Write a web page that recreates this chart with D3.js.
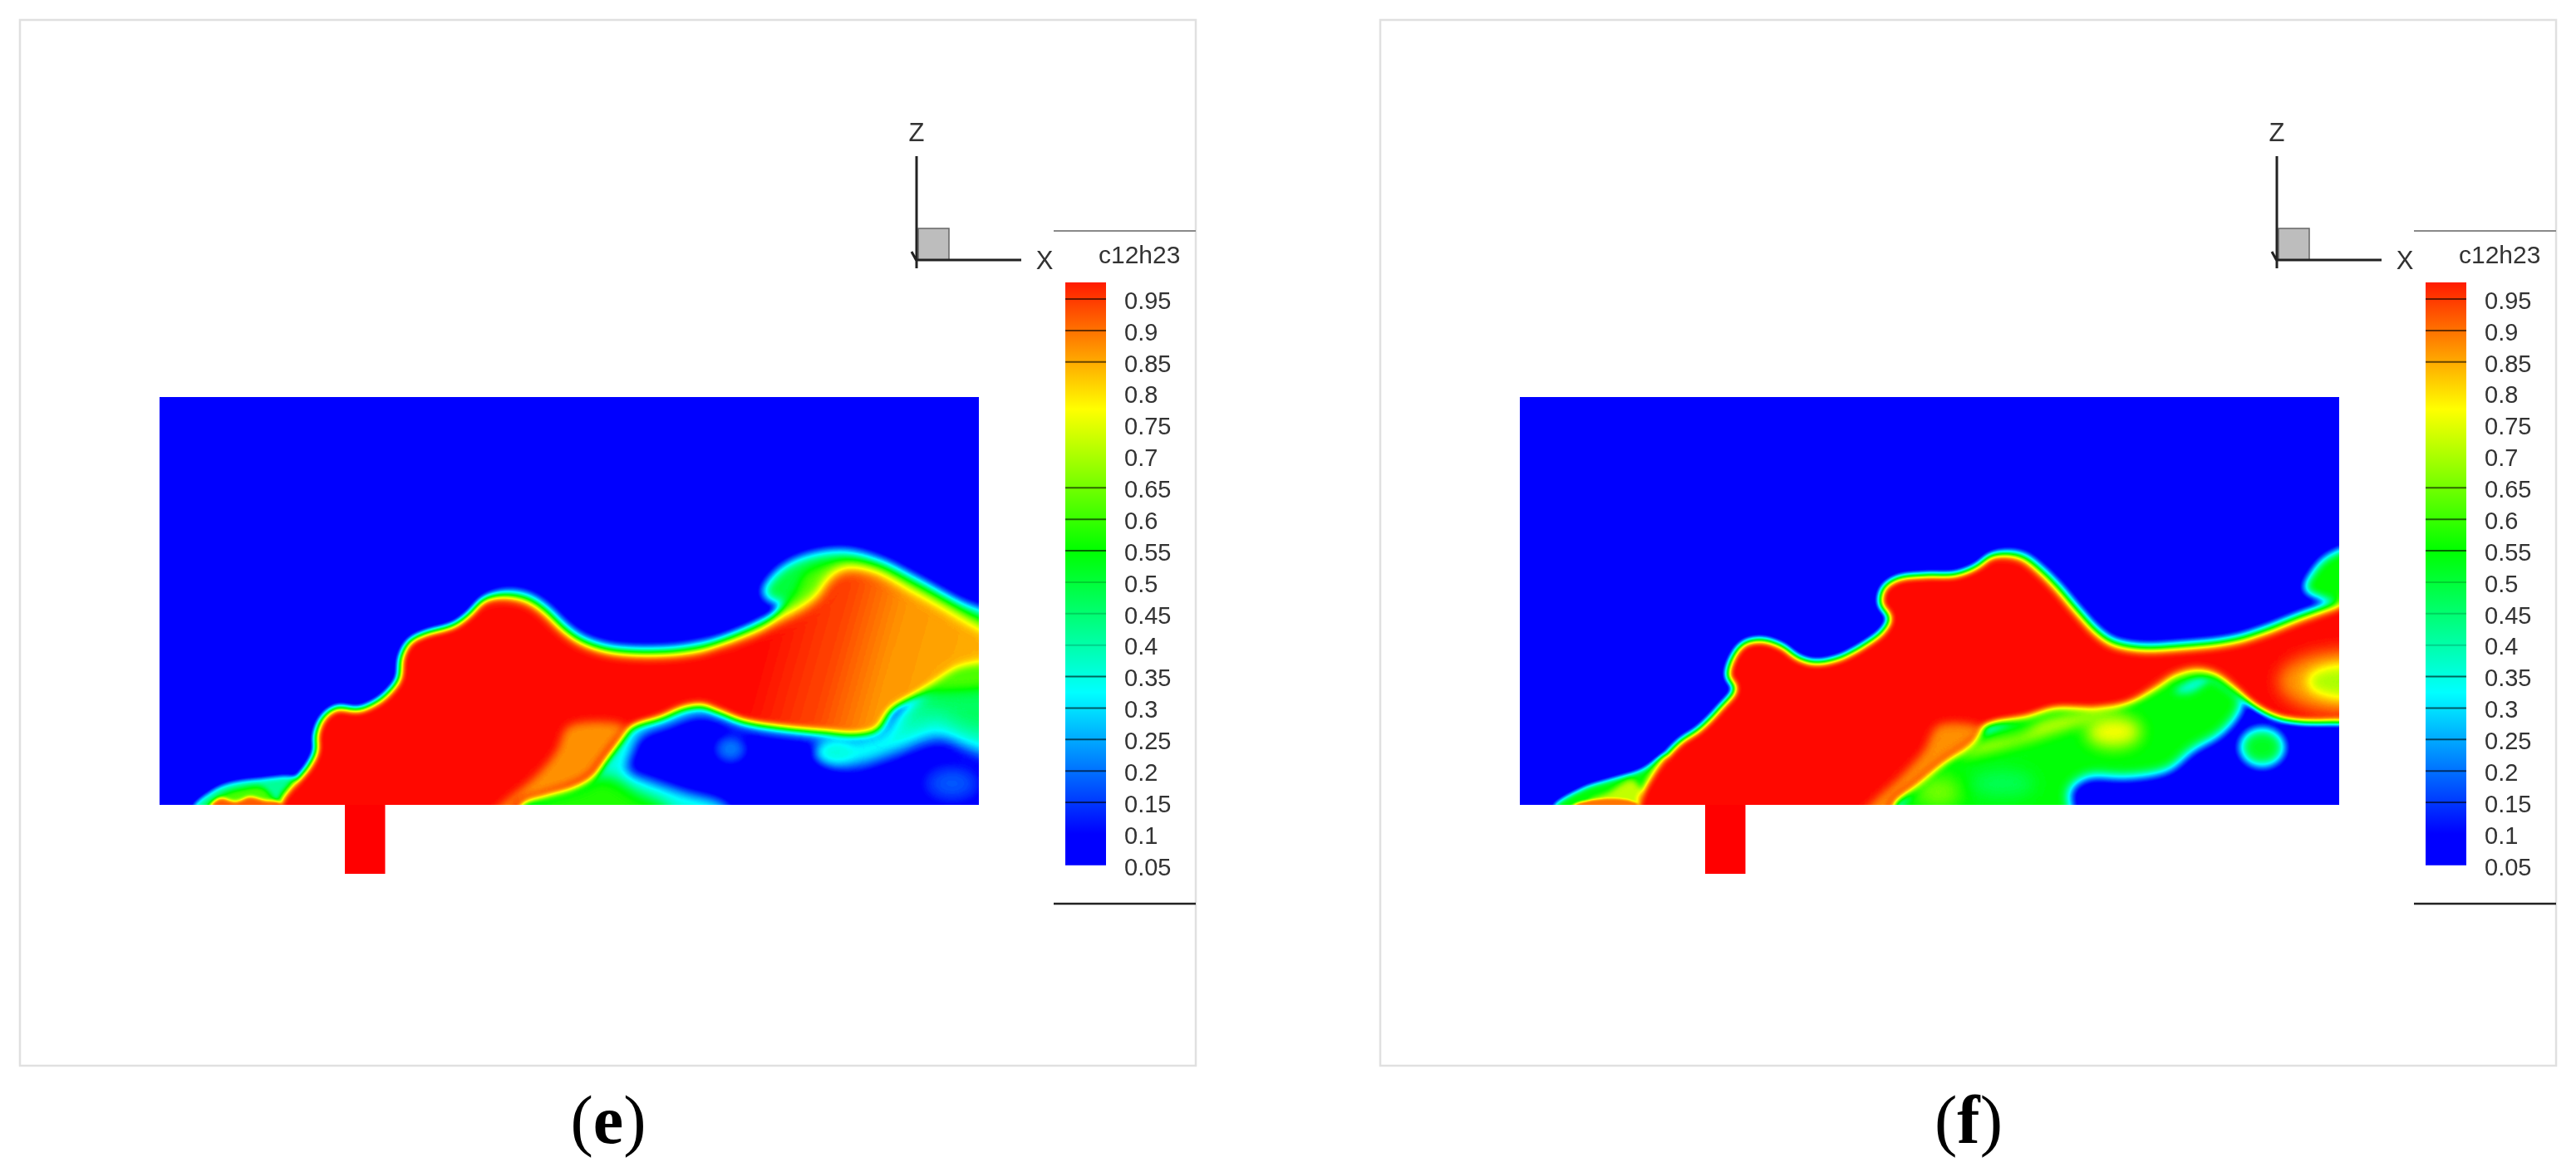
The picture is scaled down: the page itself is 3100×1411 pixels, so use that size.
<!DOCTYPE html>
<html><head><meta charset="utf-8">
<style>html,body{margin:0;padding:0;background:#fff}svg{display:block;filter:blur(0.7px)}</style>
<script src="https://cdn.jsdelivr.net/npm/d3@7/dist/d3.min.js"></script>
</head><body>
<svg id="chart" width="3100" height="1411" xmlns="http://www.w3.org/2000/svg"></svg>
<script>
// ---------- legend data ----------
const legendTitle = "c12h23";
const legendLevels = [0.95,0.9,0.85,0.8,0.75,0.7,0.65,0.6,0.55,0.5,0.45,0.4,0.35,0.3,0.25,0.2,0.15,0.1,0.05];
const strongLines = [0.95,0.9,0.85,0.65,0.6,0.55,0.35,0.3,0.25,0.2,0.15];
const faintLines = [0.5,0.45,0.4];
const rampValues = [0.1,0.325,0.55,0.775,1];
const rampColors = ["#0000ff","#00ffff","#00ff00","#ffff00","#ff0000"];

// ---------- traced field, panel (e) — [x, z] in sampled grid units ----------
const plumeE = [[262,1300],[268,1240],[290,1190],[315,1140],[328,1095],[328,1050],[340,1000],[365,970],[400,975],[425,960],[450,930],[470,885],[474,825],[488,780],[515,755],[565,730],[590,700],[618,655],[655,642],[695,655],[725,690],[755,740],[785,775],[825,798],[885,808],[945,805],[1000,790],[1060,760],[1120,715],[1165,675],[1190,640],[1205,600],[1235,565],[1285,572],[1345,620],[1410,680],[1466,735],[1540,800],[1540,835],[1466,842],[1430,855],[1395,890],[1345,945],[1315,980],[1290,1035],[1255,1048],[1200,1040],[1130,1028],[1060,1008],[1020,982],[990,965],[960,972],[920,1000],[870,1030],[850,1070],[830,1115],[805,1170],[775,1200],[725,1225],[685,1250],[665,1300]];
const plumeFadeE = [[1060,1],[1180,0.94],[1270,0.87],[1466,0.845]];
const softZoneE = [[620,400],[1600,300],[1600,800],[1300,810],[1000,880],[800,840],[700,730],[640,650]];
const lobeHaloE = [[1095,640],[1120,575],[1170,530],[1235,515],[1295,540],[1360,595],[1430,660],[1540,750],[1540,900],[1100,900],[1000,830],[1100,720],[1140,680],[1115,665]];
const lobeWarmE = [[1150,640],[1170,580],[1230,548],[1290,570],[1360,630],[1450,710],[1540,780],[1540,880],[1100,850],[1120,700]];
const wedgeE = [[762,1025],[858,1025],[840,1068],[820,1112],[795,1165],[765,1192],[718,1218],[672,1245],[655,1300],[620,1300],[655,1240],[705,1170],[742,1095]];
const floorCyanE = [[660,1300],[1045,1300],[1030,1252],[960,1215],[900,1180],[862,1150],[870,1105],[885,1052],[930,1022],[990,990],[1060,1028],[1130,1048],[1250,1062],[1300,1040],[1300,950],[990,940],[870,1010]];
const floorGreenE = [[670,1300],[945,1300],[925,1252],[880,1218],[838,1175],[810,1170],[780,1195],[720,1225]];
const sideCyanE = [[1185,1095],[1208,1065],[1255,1062],[1300,1040],[1340,990],[1400,890],[1440,850],[1540,830],[1540,1130],[1450,1095],[1400,1060],[1320,1105],[1250,1140],[1208,1130]];
const sideGreenE = [[1310,1035],[1350,960],[1400,895],[1440,855],[1540,840],[1540,1040],[1440,1030],[1395,990],[1345,1020]];
const tipCyanE = [[118,1262],[150,1212],[180,1190],[230,1178],[295,1178],[285,1270]];
const tipGreenE = [[140,1262],[165,1225],[195,1207],[235,1200],[252,1225],[262,1262]];
const tipRedE = [[140,1290],[150,1248],[165,1232],[190,1242],[215,1228],[240,1238],[265,1244],[280,1290]];
const blobsE = [
  {cx:1040,cz:1090,rx:28,rz:40,v:0.22,soft:8},
  {cx:1420,cz:1190,rx:55,rz:55,v:0.2,soft:14},
  {cx:1218,cz:1100,rx:30,rz:28,v:0.36,soft:7}
];

// ---------- traced field, panel (f) ----------
const plumeF = [[245,1300],[250,1225],[265,1175],[285,1125],[315,1070],[350,1030],[385,970],[410,915],[398,880],[405,830],[425,785],[455,773],[490,790],[520,825],[550,838],[590,825],[630,790],[665,745],[675,710],[660,670],[665,625],[690,595],[740,585],[790,583],[825,560],[850,530],[875,523],[905,532],[935,570],[965,620],[1000,690],[1030,745],[1060,780],[1110,795],[1180,790],[1260,775],[1320,745],[1380,705],[1447,665],[1510,625],[1510,1012],[1447,1012],[1380,1012],[1340,1000],[1300,965],[1265,915],[1235,880],[1205,868],[1170,880],[1130,920],[1085,960],[1030,975],[960,975],[910,1000],[840,1028],[820,1070],[770,1130],[720,1200],[685,1252],[680,1300]];
const softZoneF = [[880,300],[1600,300],[1600,730],[1300,850],[1060,870],[980,760],[900,620]];
const wedgeF = [[760,1022],[835,1032],[812,1072],[762,1130],[712,1198],[678,1245],[672,1300],[620,1300],[650,1240],[695,1170],[735,1095]];
const fieldF = [[680,1300],[985,1300],[985,1212],[1015,1172],[1085,1172],[1155,1150],[1195,1095],[1245,1045],[1275,985],[1280,940],[1200,860],[1130,900],[1060,960],[960,960],[860,1020],[790,1080],[720,1190]];
const ribbonF = [[790,1115],[830,1075],[905,1045],[935,1010],[1000,985],[1080,975],[1040,1000],[950,1050],[900,1075],[830,1105]];
const upperGapF = [[1165,925],[1200,885],[1225,885],[1195,925]];
const topBlobF = [[1388,628],[1400,580],[1430,528],[1510,500],[1510,665],[1440,665],[1410,650]];
const tipGreenF = [[100,1262],[150,1205],[200,1178],[250,1152],[295,1110],[295,1300]];
const tipYellowF = [[160,1240],[195,1215],[235,1180],[255,1240]];
const tipRedF = [[112,1290],[140,1247],[240,1245],[255,1300]];
const blobsLowF = [
  {cx:1060,cz:1040,rx:48,rz:45,v:0.78,soft:10},
  {cx:760,cz:1215,rx:40,rz:40,v:0.68,soft:12},
  {cx:870,cz:1190,rx:55,rz:40,v:0.48,soft:10},
  {cx:1315,cz:1085,rx:38,rz:55,v:0.52,soft:7}
];
const blobsHotF = [
  {cx:1460,cz:895,rx:118,rz:92,v:0.87,soft:10},
  {cx:1460,cz:895,rx:68,rz:48,v:0.7,soft:8}
];

// ---------- geometry of one panel ----------
const frame = {x0:24,x1:1439,y0:24,y1:1283};
const plot = {x0:192,x1:1178,y0:478,y1:969};
const panelShift = 1637;
const pad = 60;
const gridX = {e:[60,1466], f:[42,1447]};
const gridZ = [1252,70];

const colorOf = d3.scaleLinear().domain(rampValues).range(rampColors).clamp(true);
const grayOf = v => { const g = Math.round(v*255); return `rgb(${g},${g},${g})`; };

function renderLayers(name, layers, wide){
  const w = plot.x1-plot.x0, h = plot.y1-plot.y0;
  const cv = document.createElement("canvas");
  cv.width = w+pad*2; cv.height = h+pad*2;
  const ctx = cv.getContext("2d",{willReadFrequently:true});
  const xs = d3.scaleLinear().domain(gridX[name]).range([pad,pad+w]);
  const zs = d3.scaleLinear().domain(gridZ).range([pad+h,pad]);
  ctx.fillStyle = grayOf(0.05); ctx.fillRect(0,0,cv.width,cv.height);
  const line = d3.line().x(d=>xs(d[0])).y(d=>zs(d[1])).curve(d3.curveCatmullRomClosed.alpha(0.5)).context(ctx);
  layers.forEach(l=>{
    ctx.filter = `blur(${wide && l.wide ? l.wide : l.soft}px)`;
    if(l.pts){
      if(l.fade){
        const a=l.fade[0][0], b=l.fade[l.fade.length-1][0];
        const x0=xs(a), x1=xs(b), y0=zs(1000);
        const g=ctx.createLinearGradient(x0,y0,x1,y0+(x1-x0)*0.28);
        l.fade.forEach(s=>g.addColorStop((s[0]-a)/(b-a),grayOf(s[1])));
        ctx.fillStyle=g;
      } else ctx.fillStyle=grayOf(l.v);
      ctx.beginPath(); line(l.pts); ctx.fill();
    } else {
      ctx.fillStyle=grayOf(l.v);
      ctx.beginPath();
      ctx.ellipse(xs(l.cx),zs(l.cz),Math.abs(xs(l.rx)-xs(0)),Math.abs(zs(l.rz)-zs(0)),l.tilt||0,0,2*Math.PI);
      ctx.fill();
    }
  });
  ctx.filter="none";
  return ctx.getImageData(pad,pad,w,h).data;
}

function buildField(name, layers, zone){
  const w = plot.x1-plot.x0, h = plot.y1-plot.y0;
  const sharp = renderLayers(name,layers,false);
  const wide = renderLayers(name,layers,true);
  const mask = renderLayers(name,[{pts:zone,v:1,soft:22}],false);
  const values = new Float32Array(w*h);
  for(let i=0;i<w*h;i++){
    const m=(mask[i*4]/255-0.05)/0.95;
    values[i]=(sharp[i*4]*(1-m)+wide[i*4]*m)/255;
  }
  return {w,h,values};
}

const layersE = [
  {pts:floorCyanE,v:0.36,soft:8},
  {pts:floorGreenE,v:0.58,soft:8},
  {pts:sideCyanE,v:0.36,soft:10},
  {pts:sideGreenE,v:0.47,soft:11},
  ...blobsE,
  {pts:tipCyanE,v:0.42,soft:3},
  {pts:tipGreenE,v:0.62,soft:3},
  {pts:tipRedE,v:0.92,soft:2},
  {pts:lobeHaloE,v:0.5,soft:7},
  {pts:lobeWarmE,v:0.62,soft:6},
  {pts:plumeE,fade:plumeFadeE,soft:4,wide:8},
  {pts:wedgeE,v:0.875,soft:6}
];
const layersF = [
  {pts:topBlobF,v:0.56,soft:6},
  {pts:fieldF,v:0.55,soft:7},
  ...blobsLowF,
  {pts:ribbonF,v:0.72,soft:7},
  {pts:upperGapF,v:0.36,soft:4},
  {pts:tipGreenF,v:0.55,soft:3},
  {pts:tipYellowF,v:0.72,soft:3},
  {pts:tipRedF,v:0.9,soft:1.5},
  {pts:plumeF,v:1,soft:4,wide:6.5},
  ...blobsHotF,
  {pts:wedgeF,v:0.88,soft:6}
];

const svg = d3.select("#chart");
const defs = svg.append("defs");
const thresholds = d3.range(0.105,1.0,0.008);

// shared legend ramp
const legendY = d3.scaleLinear().domain([0.95,0.15]).range([360,966]);
const grad = defs.append("linearGradient").attr("id","ramp").attr("gradientUnits","userSpaceOnUse")
  .attr("x1",0).attr("x2",0).attr("y1",legendY(1)).attr("y2",legendY(0.05));
rampValues.slice().reverse().forEach(v=>{
  grad.append("stop").attr("offset",(legendY(v)-legendY(1))/(legendY(0.05)-legendY(1))).attr("stop-color",colorOf(v));
});

function drawPanel(name, layers, zone, i){
  const g = svg.append("g").attr("transform",`translate(${i*panelShift},0)`);
  g.append("rect").attr("x",frame.x0).attr("y",frame.y0).attr("width",frame.x1-frame.x0).attr("height",frame.y1-frame.y0)
    .attr("fill","#fff").attr("stroke","#e0e0e0").attr("stroke-width",2.5);

  // inlet tab
  g.append("rect").attr("x",plot.x0+223).attr("y",plot.y1).attr("width",48.5).attr("height",83).attr("fill",colorOf(1));

  // field through d3.contours
  const f = buildField(name,layers,zone);
  const plotG = g.append("g").attr("transform",`translate(${plot.x0},${plot.y0})`);
  plotG.append("rect").attr("width",f.w).attr("height",f.h).attr("fill",colorOf(0.1));
  const geo = d3.geoPath();
  plotG.selectAll("path").data(d3.contours().size([f.w,f.h]).thresholds(thresholds)(f.values))
    .join("path").attr("d",geo).attr("fill",d=>colorOf(d.value));

  // orientation triad
  const tri = g.append("g");
  tri.append("rect").attr("x",1105).attr("y",275).attr("width",37).attr("height",38).attr("fill","#bdbdbd").attr("stroke","#666").attr("stroke-width",1.5);
  tri.append("path").attr("d","M1103,188V323M1103,313H1229M1097,303L1103,314").attr("fill","none").attr("stroke","#222").attr("stroke-width",3);
  tri.append("text").attr("x",1103).attr("y",170).attr("text-anchor","middle").attr("font-size",31).attr("font-family","Liberation Sans").attr("fill","#333").text("Z");
  tri.append("text").attr("x",1257).attr("y",324).attr("text-anchor","middle").attr("font-size",31).attr("font-family","Liberation Sans").attr("fill","#333").text("X");

  // legend
  g.append("path").attr("d","M1268,278H1439").attr("stroke","#8a8a8a").attr("stroke-width",2).attr("fill","none");
  g.append("path").attr("d","M1268,1088H1439").attr("stroke","#222").attr("stroke-width",2.5).attr("fill","none");
  g.append("text").attr("x",1322).attr("y",317).attr("font-size",30).attr("font-family","Liberation Sans").attr("fill","#333").text(legendTitle);
  g.append("rect").attr("x",1282).attr("y",340).attr("width",49).attr("height",legendY(0.05)-340).attr("fill","url(#ramp)");
  g.append("g").selectAll("line").data(strongLines).join("line")
    .attr("x1",1282).attr("x2",1331).attr("y1",d=>legendY(d)).attr("y2",d=>legendY(d))
    .attr("stroke","#000").attr("stroke-opacity",0.6).attr("stroke-width",2);
  g.append("g").selectAll("line").data(faintLines).join("line")
    .attr("x1",1282).attr("x2",1331).attr("y1",d=>legendY(d)).attr("y2",d=>legendY(d))
    .attr("stroke","#000").attr("stroke-opacity",0.18).attr("stroke-width",2);
  const ax = g.append("g").attr("transform","translate(1331,2)")
    .call(d3.axisRight(legendY).tickValues(legendLevels).tickSize(0).tickPadding(22).tickFormat(d=>String(d)));
  ax.select(".domain").remove();
  ax.selectAll("text").attr("font-size",29).attr("font-family","Liberation Sans").attr("fill","#333");

  // caption
  const cap = g.append("text").attr("x",732).attr("y",1376).attr("text-anchor","middle").attr("font-size",82).attr("font-family","Liberation Serif").attr("fill","#000");
  cap.append("tspan").text("(");
  cap.append("tspan").attr("font-weight","bold").text(name);
  cap.append("tspan").text(")");
}
drawPanel("e",layersE,softZoneE,0);
drawPanel("f",layersF,softZoneF,1);
</script>
</body></html>
